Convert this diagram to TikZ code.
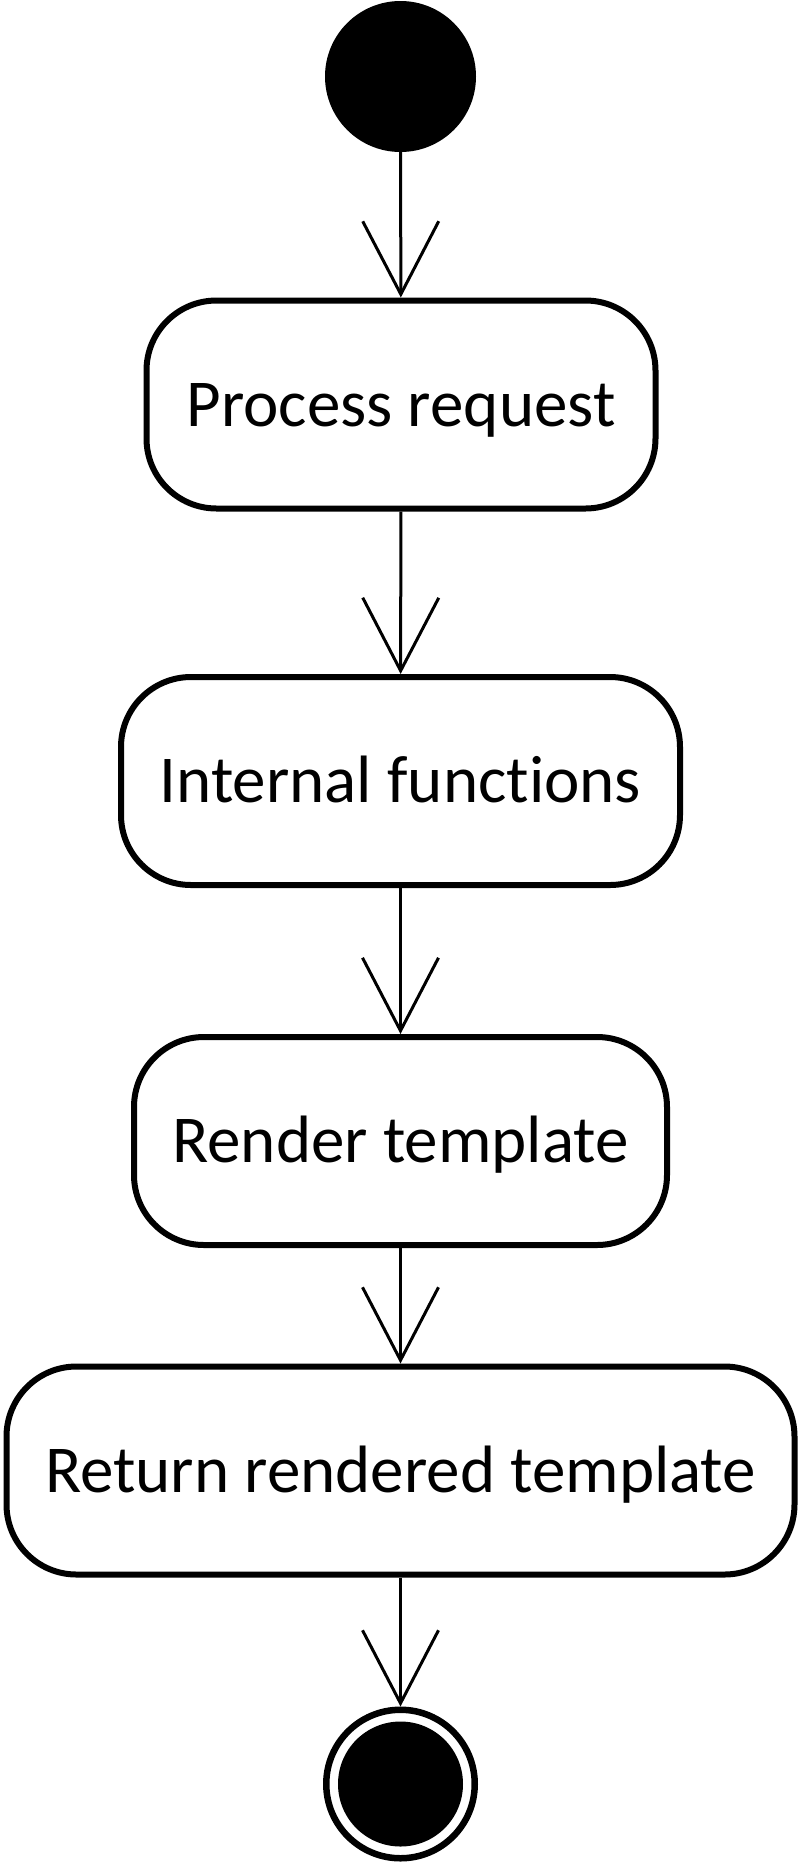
\documentclass[tikz,border=0pt]{standalone}
\usepackage{fontspec}
\setmainfont[Ligatures={NoCommon}]{Carlito}
\usetikzlibrary{arrows.meta}
\begin{document}
\begin{tikzpicture}[x=1pt,y=1pt,
  act/.style={draw, line width=6pt, rounded corners=70pt, minimum height=208pt,
    font=\fontsize{67}{80}\selectfont, text height=43pt, text depth=0pt, inner sep=0pt},
  flow/.style={line width=3pt, -{Straight Barb[length=73pt,width=76pt,line width=3pt]}},
  initnode/.style={circle, fill=black, inner sep=0pt},
  finalring/.style={circle, draw, line width=6.5pt, inner sep=0pt}
]
\useasboundingbox (0,0) rectangle (801,-1864);
\node[initnode, minimum size=151pt] (start) at (400.5,-76.5) {};
\node[act, minimum width=509pt] (b1) at (401,-404.5) {Process request};
\node[act, minimum width=559pt] (b2) at (400.5,-781) {Internal functions};
\node[act, minimum width=533pt] (b3) at (400.5,-1141) {Render template};
\node[act, minimum width=788pt] (b4) at (400.5,-1470.5) {Return rendered template};
\node[finalring, minimum size=148.5pt] (end) at (400.5,-1784) {};
\node[initnode, minimum size=125pt] (endin) at (end.center) {};
\draw[flow] (start) -- (b1);
\draw[flow] (b1) -- (b2);
\draw[flow] (b2) -- (b3);
\draw[flow] (b3) -- (b4);
\draw[flow] (b4) -- (end);
\end{tikzpicture}
\end{document}
